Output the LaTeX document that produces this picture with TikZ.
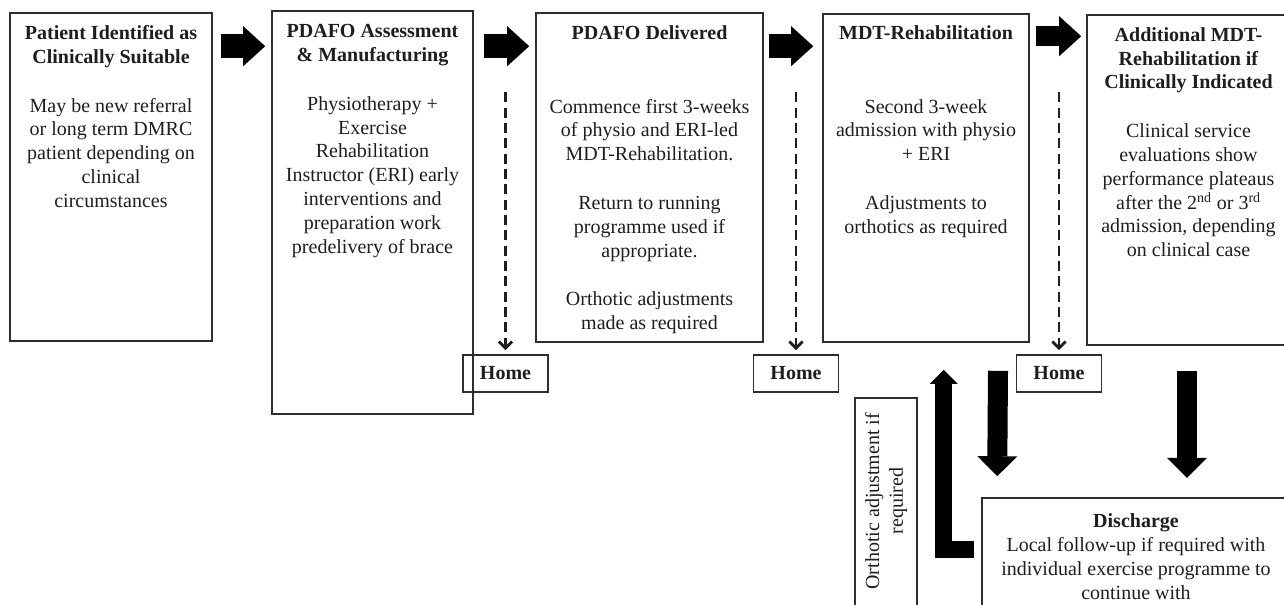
\documentclass[tikz,border=0pt]{standalone}
\usepackage{fontspec}
\setmainfont{Liberation Serif}
\usetikzlibrary{arrows.meta,calc,fit}
\definecolor{ink}{HTML}{1E1E1E}
\definecolor{edge}{HTML}{2E2E2E}
\begin{document}
\begin{tikzpicture}[x=0.75pt,y=-0.75pt,
  box/.style={draw=edge,line width=1.2pt,inner sep=0pt},
  txt/.style={text=ink,align=center,inner sep=0pt,anchor=north,font=\fontsize{15pt}{17.85pt}\selectfont},
  homebox/.style={draw=edge,line width=1.2pt,minimum width=63.75pt,minimum height=27.75pt,inner sep=0pt,text=ink,font=\fontsize{15pt}{17.85pt}\selectfont\bfseries},
  blk/.style={draw=black,line width=18pt,-{Triangle[length=16.5pt,width=30pt,line width=0pt]}},
  blkdown/.style={draw=black,line width=15pt,-{Triangle[length=15pt,width=30pt,line width=0pt]}},
  dasharrow/.style={draw=ink,line width=2.2pt,dash pattern=on 7.5pt off 4pt,-{Straight Barb[length=5pt,width=10pt]}}]
\useasboundingbox (0,0) rectangle (1284,604);
\fill[white] (0,0) rectangle (1284,604);
\clip (0,0) rectangle (1284,604);

% main boxes
\node[box,fit={(10,13)(212,341)}] (b1) {};
\node[box,fit={(272,11)(473,414)}] (b2) {};
\node[box,fit={(536,13)(763,342)}] (b3) {};
\node[box,fit={(823,14)(1029,342)}] (b4) {};
\node[box,fit={(1087,15)(1290,345)}] (b5) {};
\node[box,fit={(855,398)(917,640)}] (orth) {};
\node[box,fit={(982,498)(1290,640)}] (dis) {};

% home boxes
\node[homebox] (h1) at (505.5,373.5) {Home};
\node[homebox] (h2) at (796,373.5) {Home};
\node[homebox] (h3) at (1059,373.5) {Home};

% texts
\node[txt] (t1) at ($(b1.north)+(0,13)$) {\textbf{Patient Identified as}\\\textbf{Clinically Suitable}\\[18.75pt]
May be new referral\\or long term DMRC\\patient depending on\\clinical\\circumstances};
\node[txt] (t2) at ($(b2.north)+(0,14)$) {\textbf{PDAFO Assessment}\\\textbf{\& Manufacturing}\\[18.75pt]
Physiotherapy +\\Exercise\\Rehabilitation\\Instructor (ERI) early\\interventions and\\preparation work\\predelivery of brace};
\node[txt] (t3) at ($(b3.north)+(0,13)$) {\textbf{PDAFO Delivered}\\[37.5pt]
Commence first 3-weeks\\of physio and ERI-led\\MDT-Rehabilitation.\\[18.75pt]
Return to running\\programme used if\\appropriate.\\[18.75pt]
Orthotic adjustments\\made as required};
\node[txt] (t4) at ($(b4.north)+(0,12)$) {\textbf{MDT-Rehabilitation}\\[37.5pt]
Second 3-week\\admission with physio\\+ ERI\\[18.75pt]
Adjustments to\\orthotics as required};
\node[txt] (t5) at ($(b5.north)+(0,13)$) {\textbf{Additional MDT-}\\\textbf{Rehabilitation if}\\\textbf{Clinically Indicated}\\[18.75pt]
Clinical service\\evaluations show\\performance plateaus\\after the 2\textsuperscript{nd} or 3\textsuperscript{rd}\\admission, depending\\on clinical case};
\node[txt,font=\fontsize{15pt}{18.1pt}\selectfont] (t6) at ($(dis.north)+(0,16)$) {\textbf{Discharge}\\Local follow-up if required with\\individual exercise programme to\\continue with};
\node[txt,anchor=center,rotate=90] (t7) at ($(orth.north)+(0,104)$) {Orthotic adjustment if\\required};

% block arrows between stages
\draw[blk] ($(b1.north east)+(8,34)$) -- ($(b2.north west)+(-6,36)$);
\draw[blk] ($(b2.north east)+(10,36)$) -- ($(b3.north west)+(-6,34)$);
\draw[blk] ($(b3.north east)+(5,34)$) -- ($(b4.north west)+(-9,33)$);
\draw[blk,line width=15pt] ($(b4.north east)+(6,23)$) -- ($(b5.north west)+(-5,22)$);

% dashed arrows to home
\draw[dasharrow] ($(h1.north)+(0,-262)$) -- ($(h1.north)+(0,-4)$);
\draw[dasharrow] ($(h2.north)+(0,-262)$) -- ($(h2.north)+(0,-4)$);
\draw[dasharrow] ($(h3.north)+(0,-262)$) -- ($(h3.north)+(0,-4)$);

% down arrows to discharge
\draw[blkdown] ($(b4.south)+(72,28)$) -- ($(dis.north west)+(16,-21)$);
\draw[blkdown] ($(b5.south)+(-1.5,25)$) -- ($(b5.south)+(-1.5,132)$);

% return arrow (orthotic adjustment)
\draw[line width=12.75pt,line join=miter,draw=black,-{Triangle[length=10.5pt,width=21pt,line width=0pt]}]
  ($(dis.north west)+(-7,52.5)$) -| ($(b4.south west)+(121.5,27)$);
\end{tikzpicture}
\end{document}
